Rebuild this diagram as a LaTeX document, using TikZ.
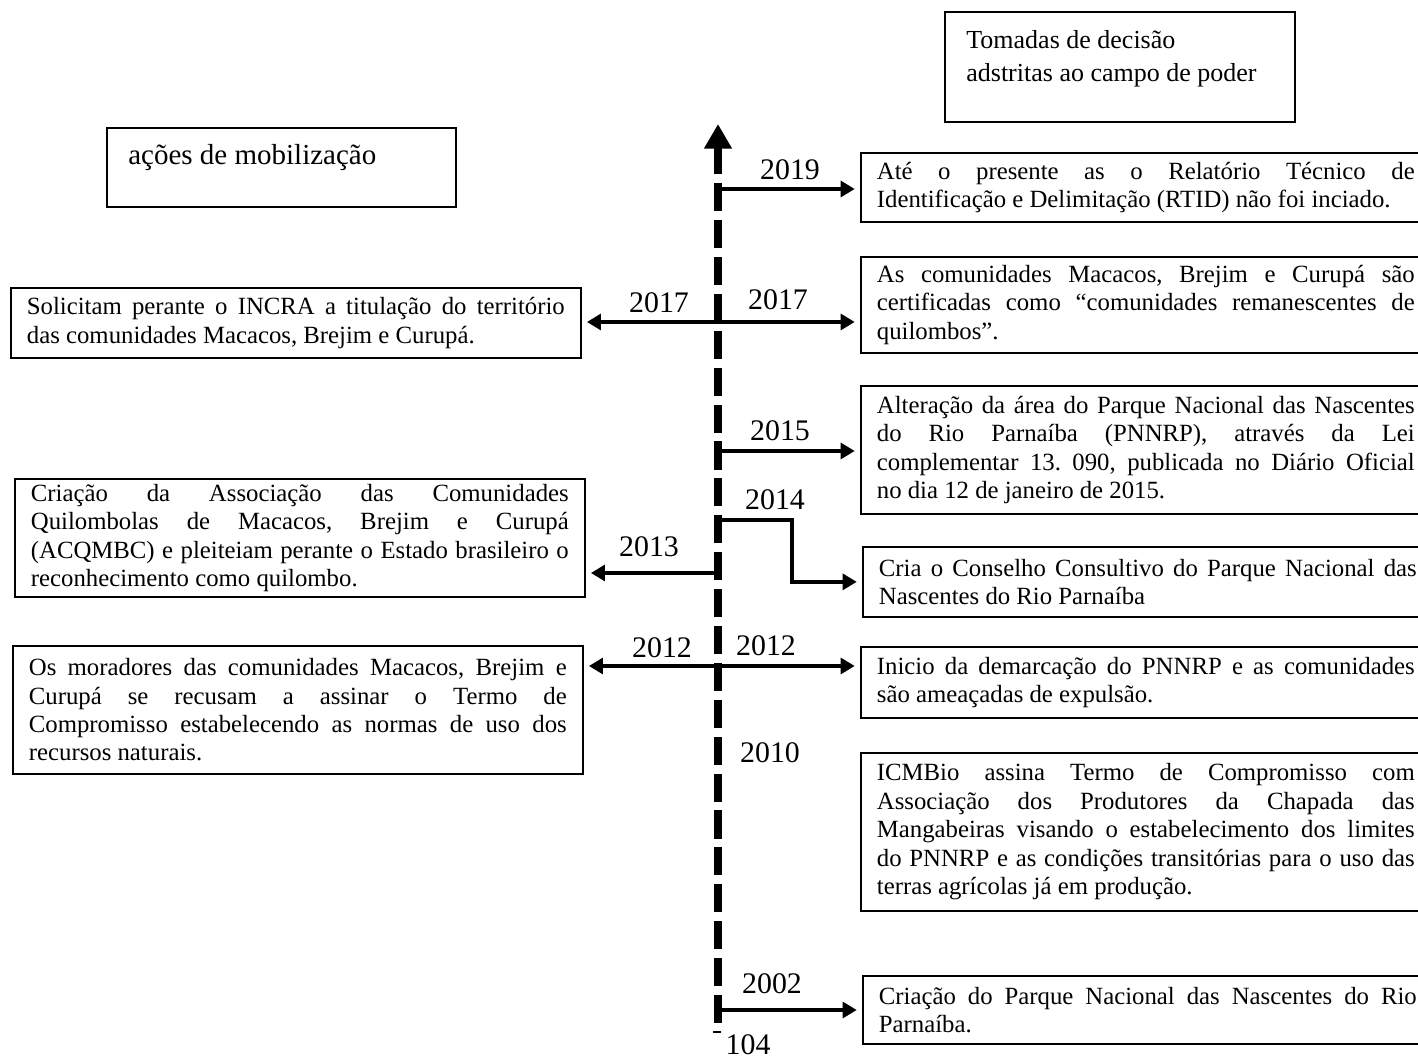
\documentclass[tikz,border=0pt]{standalone}
\usepackage{fontspec}
\setmainfont{Liberation Serif}
\usepackage{tikz}
\usetikzlibrary{arrows.meta,calc,positioning}

\begin{document}
\hyphenpenalty=10000 \exhyphenpenalty=10000 \frenchspacing
\begin{tikzpicture}[x=0.02cm,y=-0.02cm,
    caixa/.style={draw,line width=1pt,anchor=north west,text width=10.76cm,
      inner xsep=0.32cm,inner ysep=0pt,align=justify,
      font=\fontsize{14.1}{16.2}\selectfont},
    moldura/.style={draw,line width=1pt,anchor=north west,inner sep=0pt},
    ano/.style={font=\fontsize{17}{20}\selectfont,inner sep=0pt},
    eixo/.style={line width=4.5pt,dash pattern=on 16pt off 5pt,
      -{Triangle[length=14pt,width=15pt]}},
    evento/.style={-{Triangle[length=8pt,width=9pt]},line width=2pt,
      shorten >=3pt}]

    \useasboundingbox (0,0) rectangle (1418,1060);
    \clip (0,0) rectangle (1418,1060);

    % titulos
    \node[moldura,minimum width=7cm,minimum height=2.2cm] (decisao) at (944,11) {};
    \node[anchor=north west,align=left,inner sep=0pt,
      font=\fontsize{14.8}{18.6}\selectfont] (decisaotxt) at (966,30)
      {Tomadas de decisão\\adstritas ao campo de poder};
    \node[moldura,minimum width=6.98cm,minimum height=1.58cm] (mobilizacao) at (106,127) {};
    \node[anchor=base west,inner sep=0pt,font=\fontsize{16.5}{19}\selectfont]
      (mobilizacaotxt) at (128,165) {ações de mobilização};

    % eixo do tempo
    \coordinate (eixobase) at (718,1023);
    \coordinate (eixotopo) at (718,124);
    \draw[eixo] (eixobase) -- (eixotopo);

    % lado direito
    \node[caixa,minimum height=1.38cm] (evt2019) at (860,152)
      {Até o presente as o Relatório Técnico de\linebreak
       Identificação e Delimitação (RTID) não foi inciado.};
    \node[caixa,minimum height=1.92cm] (evt2017d) at (860,256)
      {As comunidades Macacos, Brejim e Curupá são\linebreak
       certificadas como “comunidades remanescentes de\linebreak
       quilombos”.};
    \node[caixa,minimum height=2.56cm] (evt2015) at (860,385)
      {Alteração da área do Parque Nacional das Nascentes\linebreak
       do Rio Parnaíba (PNNRP), através da Lei\linebreak
       complementar 13. 090, publicada no Diário Oficial\linebreak
       no dia 12 de janeiro de 2015.};
    \node[caixa,minimum height=1.4cm] (evt2014) at (862,546)
      {Cria o Conselho Consultivo do Parque Nacional das\linebreak
       Nascentes do Rio Parnaíba};
    \node[caixa,minimum height=1.42cm] (evt2012d) at (860,646)
      {Inicio da demarcação do PNNRP e as comunidades\linebreak
       são ameaçadas de expulsão.};
    \node[caixa,minimum height=3.16cm] (evt2010) at (860,752)
      {ICMBio assina Termo de Compromisso com\linebreak
       Associação dos Produtores da Chapada das\linebreak
       Mangabeiras visando o estabelecimento dos limites\linebreak
       do PNNRP e as condições transitórias para o uso das\linebreak
       terras agrícolas já em produção.};
    \node[caixa,minimum height=1.36cm] (evt2002) at (862,975)
      {Criação do Parque Nacional das Nascentes do Rio\linebreak
       Parnaíba.};

    % lado esquerdo
    \node[caixa,minimum height=1.4cm] (evt2017e) at (10,287)
      {Solicitam perante o INCRA a titulação do território\linebreak
       das comunidades Macacos, Brejim e Curupá.};
    \node[caixa,minimum height=2.36cm] (evt2013) at (14,478)
      {Criação da Associação das Comunidades\linebreak
       Quilombolas de Macacos, Brejim e Curupá\linebreak
       (ACQMBC) e pleiteiam perante o Estado brasileiro o\linebreak
       reconhecimento como quilombo.};
    \node[caixa,minimum height=2.56cm] (evt2012e) at (12,645)
      {Os moradores das comunidades Macacos, Brejim e\linebreak
       Curupá se recusam a assinar o Termo de\linebreak
       Compromisso estabelecendo as normas de uso dos\linebreak
       recursos naturais.};

    % anos
    \foreach \nome/\ano/\x/\y in {a2019/2019/790/170,a2017d/2017/778/300,
        a2017e/2017/659/303,a2015/2015/780/431,a2014/2014/775/500,
        a2013/2013/649/547,a2012d/2012/766/646,a2012e/2012/662/648,
        a2010/2010/770/753,a2002/2002/772/984}
      \node[ano] (\nome) at (\x,\y) {\ano};

    % setas
    \foreach \nome/\y in {2019/189,2017/322,2015/451,2014/520,2013/573,
        2012/666,2002/1010}
      \coordinate (t\nome) at (718,\y);
    \draw[evento] (t2019) -- (t2019 -| evt2019.west);
    \draw[evento] (t2017) -- (t2017 -| evt2017d.west);
    \draw[evento] (t2017) -- (t2017 -| evt2017e.east);
    \draw[evento] (t2015) -- (t2015 -| evt2015.west);
    \draw[evento] (t2014) -- ++(74,0) |- (evt2014.west);
    \draw[evento] (t2013) -- (t2013 -| evt2013.east);
    \draw[evento] (t2012) -- (t2012 -| evt2012d.west);
    \draw[evento] (t2012) -- (t2012 -| evt2012e.east);
    \draw[evento] (t2002) -- (t2002 -| evt2002.west);

    \node[ano,anchor=west] (pagina) at (713,1043)
      {\raisebox{0.72em}{\rule{4.5pt}{0.7pt}}\hspace{2.5pt}104};
  \end{tikzpicture}
\end{document}
